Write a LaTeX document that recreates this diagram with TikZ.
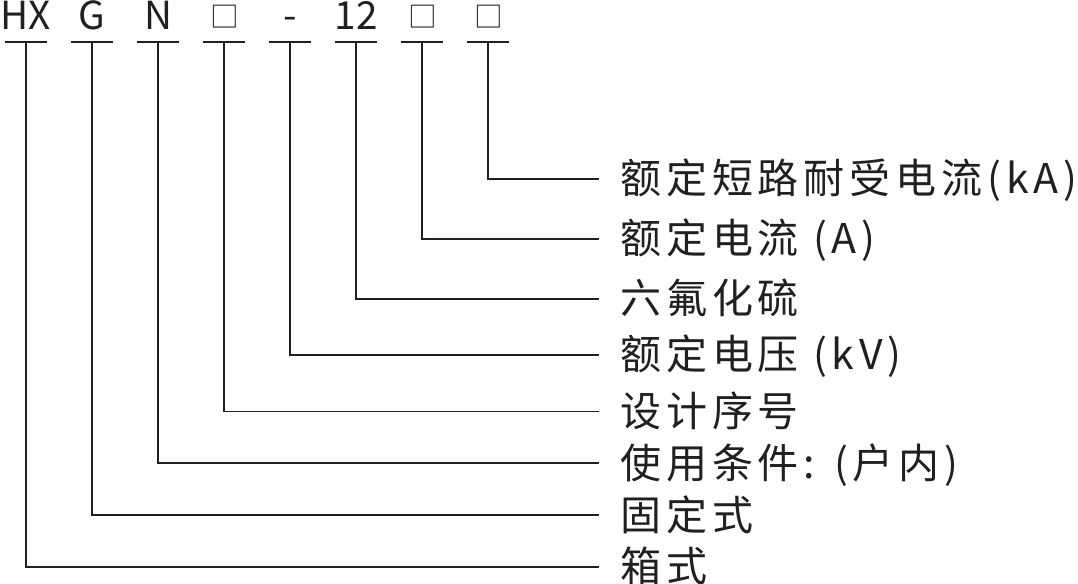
\documentclass[tikz,border=0pt]{standalone}
\usepackage{fontspec}
\setmainfont{Noto Sans CJK SC}
\newfontfamily\descfont[LetterSpace=12]{Noto Sans CJK SC}
\usepackage{xcolor}
\usepackage{tikz}

\definecolor{inkgray}{RGB}{35,31,32}

\tikzset{
  codetext/.style={anchor=base, inner sep=0pt, text height=21pt, text depth=0pt, text=inkgray, font=\fontsize{29}{34}\selectfont},
  boxtext/.style={codetext, font=\fontsize{21.5}{26}\selectfont},
  desctext/.style={anchor=west, inner xsep=15.75pt, inner ysep=0pt, text height=27pt, text depth=4.5pt, text=inkgray, font=\descfont\fontsize{30.75}{36}\selectfont},
  underbar/.style={draw=inkgray, line width=1.2pt},
  leader/.style={draw=inkgray, line width=1.2pt}
}

\begin{document}
\begin{tikzpicture}[x=0.75pt,y=0.75pt,yscale=-1,xscale=1]
%set diagram left start at 0, and has height of 584
\useasboundingbox (0,0) rectangle (1078,584);

% Code letters
\node [codetext] (t0) at (26,30) {HX};
\node [codetext] (t1) at (92,30) {G};
\node [codetext] (t2) at (158,30) {N};
\node [boxtext] (t3) at (224.5,28) {□};
\node [codetext] (t4) at (290,30) {-};
\node [codetext] (t5) at (356,30) {12};
\node [boxtext] (t6) at (422.5,28) {□};
\node [boxtext] (t7) at (488.5,28) {□};

% Bar points under the letters
\coordinate (b0) at (26,42.3);
\coordinate (b1) at (92,42.3);
\coordinate (b2) at (158,42.3);
\coordinate (b3) at (224,42.3);
\coordinate (b4) at (290,42.3);
\coordinate (b5) at (356,42.3);
\coordinate (b6) at (422,42.3);
\coordinate (b7) at (488,42.3);

%Straight Lines (under bars)
\draw [underbar] ([xshift=-15.4pt]b0) -- ([xshift=15.4pt]b0);
\draw [underbar] ([xshift=-15.4pt]b1) -- ([xshift=15.4pt]b1);
\draw [underbar] ([xshift=-15.4pt]b2) -- ([xshift=15.4pt]b2);
\draw [underbar] ([xshift=-15.4pt]b3) -- ([xshift=15.4pt]b3);
\draw [underbar] ([xshift=-15.4pt]b4) -- ([xshift=15.4pt]b4);
\draw [underbar] ([xshift=-15.4pt]b5) -- ([xshift=15.4pt]b5);
\draw [underbar] ([xshift=-15.4pt]b6) -- ([xshift=15.4pt]b6);
\draw [underbar] ([xshift=-15.4pt]b7) -- ([xshift=15.4pt]b7);

% Text Node (meanings)
\node [desctext] (r7) at (599,179) {额定短路耐受电流(kA)};
\node [desctext] (r6) at (599,239) {额定电流 (A)};
\node [desctext] (r5) at (599,299) {六氟化硫};
\node [desctext] (r4) at (599,355) {额定电压 (kV)};
\node [desctext] (r3) at (599,411.7) {设计序号};
\node [desctext] (r2) at (599,463) {使用条件: (户内)};
\node [desctext] (r1) at (599,515) {固定式};
\node [desctext] (r0) at (599,566.7) {箱式};

%Straight Lines (leaders)
\draw [leader] (b7) |- (r7.west);
\draw [leader] (b6) |- (r6.west);
\draw [leader] (b5) |- (r5.west);
\draw [leader] (b4) |- (r4.west);
\draw [leader] (b3) |- (r3.west);
\draw [leader] (b2) |- (r2.west);
\draw [leader] (b1) |- (r1.west);
\draw [leader] (b0) |- (r0.west);

\end{tikzpicture}
\end{document}
